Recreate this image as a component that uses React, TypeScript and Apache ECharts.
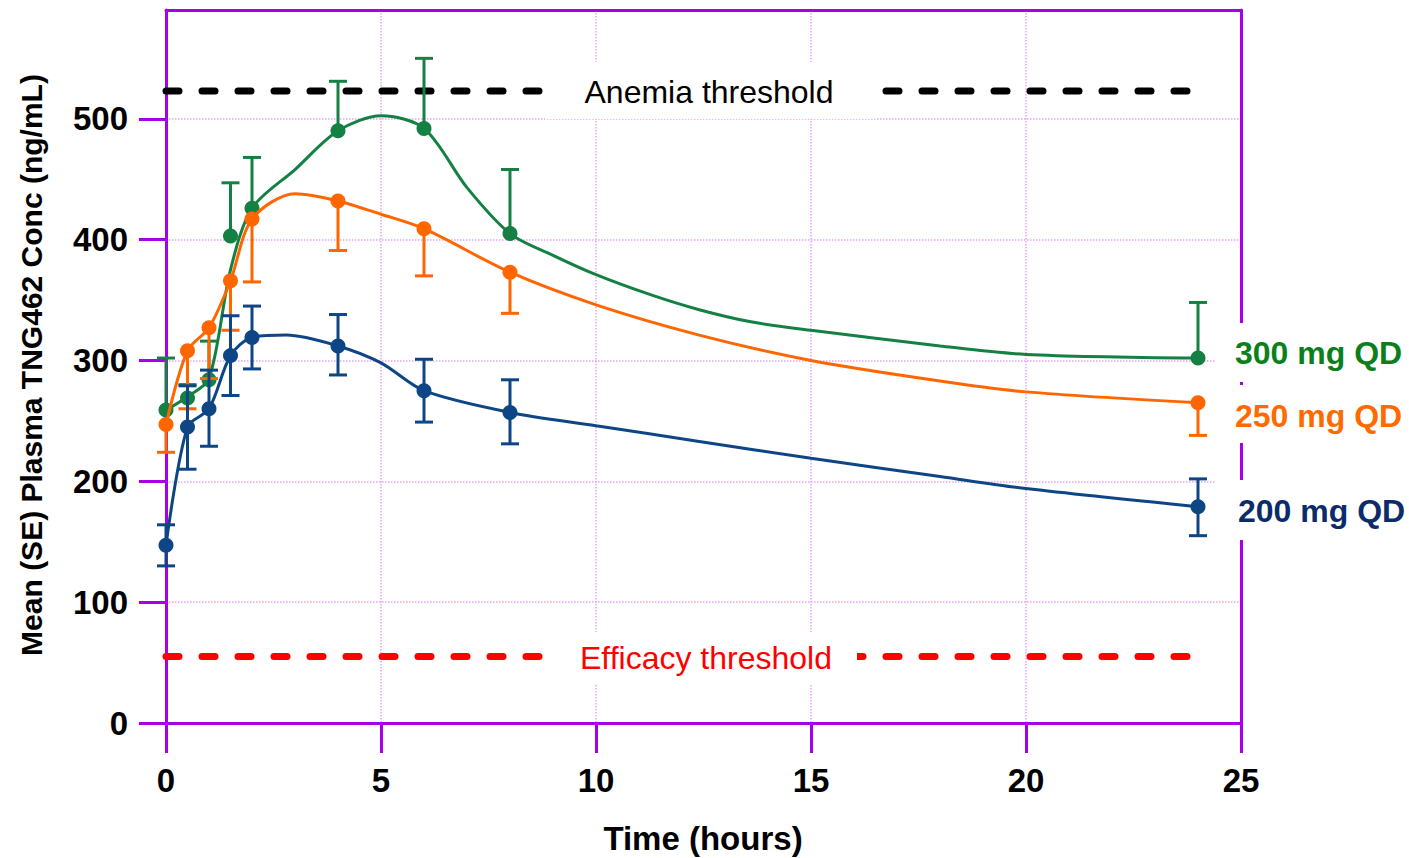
import React, { useEffect, useRef } from "react";
import * as echarts from "echarts";

// Observed sampling times (hours)
const times = [0, 0.5, 1, 1.5, 2, 4, 6, 8, 24];

// 200 mg QD (mean, lower SE, upper SE)
const mean200 = [147, 245, 260, 304, 319, 312, 275, 257, 179];
const lo200 = [130, 210, 229, 271, 293, 288, 249, 231, 155];
const hi200 = [164, 279, 292, 337, 345, 338, 301, 284, 202];

// 250 mg QD (mean, lower SE only)
const mean250 = [247, 308, 327, 366, 417, 432, 409, 373, 265];
const lo250 = [224, 260, 285, 325, 365, 391, 370, 339, 238];

// 300 mg QD (mean, upper SE only)
const mean300 = [259, 269, 284, 403, 426, 490, 492, 405, 302];
const hi300 = [302, 280, 316, 447, 468, 531, 550, 458, 348];

// Model-fit curves
const fitT200 = [0, 0.5, 1, 1.5, 2, 2.8, 4, 5, 6, 8, 10, 12.4, 15, 18, 20, 24];
const fitV200 = [147, 245, 260, 304, 319, 321, 312, 298, 275, 257, 246, 233, 219, 204, 194, 179];

const fitT250 = [0, 0.5, 1, 1.5, 2, 3, 4, 5, 6, 8, 10, 12.4, 15, 18, 20, 24];
const fitV250 = [247, 308, 327, 366, 417, 438, 432, 421, 409, 373, 346, 321, 300, 283, 274, 265];

const fitT300 = [0, 0.5, 1, 1.5, 2, 3, 4, 5, 6, 7, 8, 9, 10, 11.3, 12.4, 13.6, 15, 18, 20, 24];
const fitV300 = [259, 270, 285, 375, 426, 458, 490, 502.5, 492, 443, 405, 387, 371, 354, 342, 332, 325, 312, 305, 302];

// Thresholds
const anemiaThreshold = 523;
const efficacyThreshold = 55;
const thresholdEnd = 23.75;

const yTicks = [0, 100, 200, 300, 400, 500];

const PURPLE = "#a700e8";
const GRID = "#e3a4f6";
const C200 = "#0e4585";
const C250 = "#ff6600";
const C300 = "#148043";
const FONT = '"Liberation Sans", Arial, sans-serif';

function errorBars(color: string, data: number[][], z: number) {
  return {
    type: "custom",
    xAxisIndex: 0,
    yAxisIndex: 0,
    z,
    clip: false,
    encode: { x: 0, y: [1, 2, 3] },
    data,
    renderItem: (_params: any, api: any) => {
      const x = api.value(0);
      const m = api.value(1);
      const lo = api.value(2);
      const hi = api.value(3);
      const pl = api.coord([x, lo]);
      const ph = api.coord([x, hi]);
      const style = { stroke: color, lineWidth: 3 };
      const children: any[] = [
        { type: "line", shape: { x1: pl[0], y1: pl[1], x2: ph[0], y2: ph[1] }, style },
      ];
      if (lo < m) children.push({ type: "line", shape: { x1: pl[0] - 9, y1: pl[1], x2: pl[0] + 9, y2: pl[1] }, style });
      if (hi > m) children.push({ type: "line", shape: { x1: ph[0] - 9, y1: ph[1], x2: ph[0] + 9, y2: ph[1] }, style });
      return { type: "group", children };
    },
  };
}

function curve(color: string, t: number[], v: number[], z: number) {
  return {
    type: "line",
    xAxisIndex: 0,
    yAxisIndex: 0,
    z,
    data: t.map((tt, i) => [tt, v[i]]),
    smooth: 0.3,
    showSymbol: false,
    symbol: "none",
    lineStyle: { color, width: 3 },
    silent: true,
  };
}

function markers(color: string, v: number[], z: number) {
  return {
    type: "scatter",
    xAxisIndex: 0,
    yAxisIndex: 0,
    z,
    symbolSize: 15,
    data: times.map((t, i) => [t, v[i]]),
    itemStyle: { color, opacity: 1 },
  };
}

function threshold(color: string, value: number) {
  return {
    type: "line",
    xAxisIndex: 0,
    yAxisIndex: 0,
    z: 1,
    data: [
      [0, value],
      [thresholdEnd, value],
    ],
    symbol: "none",
    lineStyle: { color, width: 7, type: [13, 23], cap: "round" },
    silent: true,
  };
}

export default function App() {
  const ref = useRef<HTMLDivElement>(null);
  useEffect(() => {
    const chart = echarts.init(ref.current!, null, { renderer: "svg" });
    const option: any = {
      animation: false,
      backgroundColor: "#fff",
      grid: { left: 166, right: 168, top: 10, bottom: 135, outerBoundsMode: "none" },
      xAxis: [
        {
          type: "value",
          min: 0,
          max: 25,
          interval: 5,
          position: "bottom",
          axisLine: { show: true, onZero: false, lineStyle: { color: PURPLE, width: 3 } },
          axisTick: { show: true, inside: false, length: 30, lineStyle: { color: PURPLE, width: 3 } },
          axisLabel: { color: "#000", fontSize: 33, fontWeight: "bold", fontFamily: FONT, margin: 41 },
          splitLine: { show: true, lineStyle: { color: GRID, type: "dotted", width: 1.5 } },
        },
        {
          type: "value",
          min: 0,
          max: 25,
          position: "top",
          axisLine: { show: true, onZero: false, lineStyle: { color: PURPLE, width: 3 } },
          axisTick: { show: false },
          axisLabel: { show: false },
          splitLine: { show: false },
        },
      ],
      yAxis: [
        {
          type: "value",
          min: 0,
          max: 590,
          interval: 100,
          position: "left",
          axisLine: { show: true, onZero: false, lineStyle: { color: PURPLE, width: 3 } },
          axisTick: { show: true, inside: false, length: 27, customValues: yTicks, lineStyle: { color: PURPLE, width: 3 } },
          axisLabel: {
            color: "#000",
            fontSize: 33,
            fontWeight: "bold",
            fontFamily: FONT,
            margin: 38,
            customValues: yTicks,
          },
          splitLine: { show: true, lineStyle: { color: GRID, type: "dotted", width: 1.5 } },
        },
        {
          type: "value",
          min: 0,
          max: 590,
          position: "right",
          axisLine: { show: true, onZero: false, lineStyle: { color: PURPLE, width: 3 } },
          axisTick: { show: false },
          axisLabel: { show: false },
          splitLine: { show: false },
        },
      ],
      series: [
        threshold("#000", anemiaThreshold),
        threshold("#ff0000", efficacyThreshold),
        curve(C300, fitT300, fitV300, 3),
        errorBars(C300, times.map((t, i) => [t, mean300[i], mean300[i], hi300[i]]), 4),
        markers(C300, mean300, 5),
        curve(C250, fitT250, fitV250, 6),
        errorBars(C250, times.map((t, i) => [t, mean250[i], lo250[i], mean250[i]]), 7),
        markers(C250, mean250, 8),
        curve(C200, fitT200, fitV200, 9),
        errorBars(C200, times.map((t, i) => [t, mean200[i], lo200[i], hi200[i]]), 10),
        markers(C200, mean200, 11),
      ],
      graphic: [
        { type: "rect", z: 100, shape: { x: 545, y: 62, width: 330, height: 57 }, style: { fill: "#fff" } },
        {
          type: "text",
          z: 101,
          x: 709,
          y: 92,
          style: { text: "Anemia threshold", fill: "#000", font: `32px ${FONT}`, align: "center", verticalAlign: "middle" },
        },
        { type: "rect", z: 100, shape: { x: 558, y: 632, width: 299, height: 52 }, style: { fill: "#fff" } },
        {
          type: "text",
          z: 101,
          x: 706,
          y: 658,
          style: { text: "Efficacy threshold", fill: "#ff0000", font: `32px ${FONT}`, align: "center", verticalAlign: "middle" },
        },
        { type: "rect", z: 100, shape: { x: 1215, y: 323, width: 194, height: 59 }, style: { fill: "#fff" } },
        { type: "rect", z: 100, shape: { x: 1215, y: 385, width: 194, height: 58 }, style: { fill: "#fff" } },
        { type: "rect", z: 100, shape: { x: 1215, y: 480, width: 194, height: 60 }, style: { fill: "#fff" } },
        {
          type: "text",
          z: 101,
          x: 1235,
          y: 353,
          style: { text: "300 mg QD", fill: "#0a7f1c", font: `bold 32px ${FONT}`, align: "left", verticalAlign: "middle" },
        },
        {
          type: "text",
          z: 101,
          x: 1235,
          y: 416,
          style: { text: "250 mg QD", fill: "#ff6a00", font: `bold 32px ${FONT}`, align: "left", verticalAlign: "middle" },
        },
        {
          type: "text",
          z: 101,
          x: 1238,
          y: 511,
          style: { text: "200 mg QD", fill: "#0c2b6b", font: `bold 32px ${FONT}`, align: "left", verticalAlign: "middle" },
        },
        {
          type: "text",
          z: 101,
          x: 703,
          y: 838,
          style: { text: "Time (hours)", fill: "#000", font: `bold 33px ${FONT}`, align: "center", verticalAlign: "middle" },
        },
        {
          type: "text",
          z: 101,
          x: 31,
          y: 365,
          rotation: Math.PI / 2,
          style: {
            text: "Mean (SE) Plasma TNG462 Conc (ng/mL)",
            fill: "#000",
            font: `bold 30px ${FONT}`,
            align: "center",
            verticalAlign: "middle",
          },
        },
      ],
    };
    chart.setOption(option);
    return () => chart.dispose();
  }, []);
  return (
    <div
      ref={ref}
      style={{ position: "fixed", left: 0, top: 0, width: 1409, height: 858, background: "#fff" }}
    />
  );
}
